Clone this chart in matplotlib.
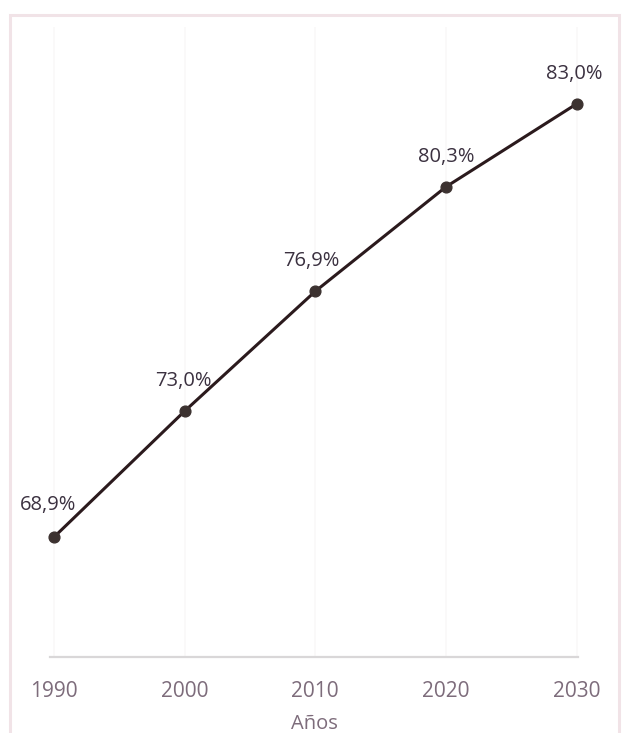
import matplotlib
matplotlib.use("Agg")
import matplotlib.pyplot as plt
from matplotlib.patches import Rectangle

# Urbanization rate by decade
years = [1990, 2000, 2010, 2020, 2030]
values = [68.9, 73.0, 76.9, 80.3, 83.0]
labels = ["68,9%", "73,0%", "76,9%", "80,3%", "83,0%"]
tick_labels = ["1990", "2000", "2010", "2020", "2030"]
label_offsets = [(-6, 32), (-1, 30), (-4, 30), (0, 30), (-2, 30)]

plt.rcParams["font.family"] = ["Open Sans", "DejaVu Sans"]

fig = plt.figure(figsize=(6.24, 7.33), dpi=100)
fig.patch.set_facecolor("white")

# light frame around the chart area
fig.add_artist(Rectangle((10 / 624, -0.01), 609 / 624, (733 - 15) / 733 + 0.01,
                         transform=fig.transFigure, fill=False,
                         edgecolor="#f1e3e7", linewidth=2.2))

ax = fig.add_axes([50 / 624, 76 / 733, 528 / 624, 630 / 733])
ax.set_facecolor("none")

ax.plot(years, values, color="#2b1a1d", linewidth=2.2, zorder=3)
ax.scatter(years, values, s=60, color="#3c3230", zorder=4, clip_on=False)

for x, y, txt, off in zip(years, values, labels, label_offsets):
    ax.annotate(txt, (x, y), xytext=off, textcoords="offset pixels",
                ha="center", va="center", fontsize=14.5, color="#3b3140")

ax.set_xlim(1989.7, 2030.1)
ax.set_ylim(65, 85.5)

ax.set_xticks(years)
ax.set_xticklabels(tick_labels)
ax.set_yticks([])
ax.tick_params(axis="x", length=0, pad=17, labelsize=15, labelcolor="#7d6c7b")
for lbl in ax.get_xticklabels():
    lbl.set_clip_on(False)

ax.grid(axis="x", color="#f9f8f8", linewidth=1.2)
for side in ["top", "right", "left"]:
    ax.spines[side].set_visible(False)
ax.spines["bottom"].set_color("#d9d7d8")
ax.spines["bottom"].set_linewidth(1.6)

ax.set_xlabel("Años", fontsize=14.5, color="#7d6c7b", labelpad=9)

fig.savefig("out.png", dpi=100, facecolor="white")
